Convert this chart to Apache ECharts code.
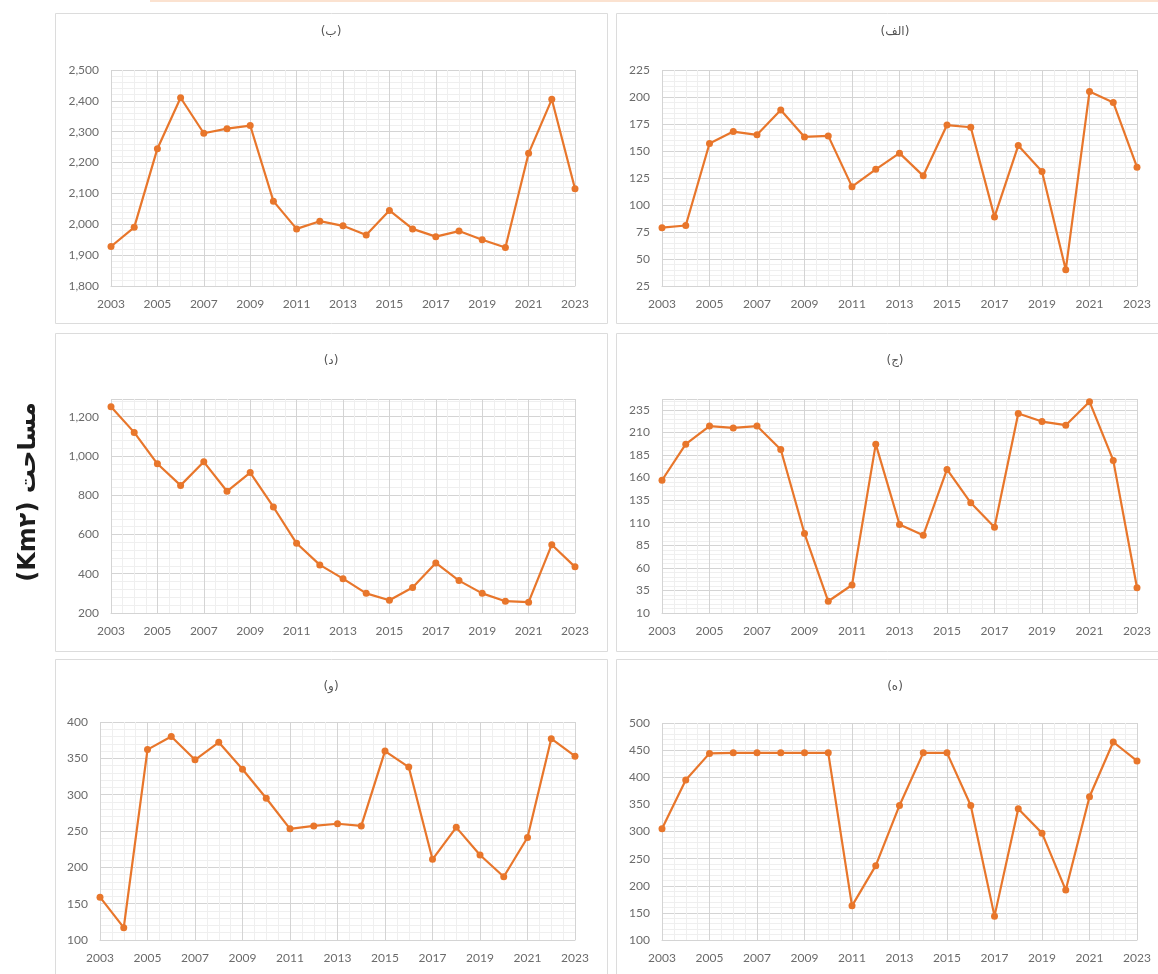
<!DOCTYPE html>
<html>
<head>
<meta charset="utf-8">
<script src="https://cdn.jsdelivr.net/npm/echarts@6/dist/echarts.min.js"></script>
<style>
  html, body { margin: 0; padding: 0; background: #ffffff; }
  #chart { width: 1158px; height: 974px; }
</style>
</head>
<body>
<div id="chart"></div>
<script>
// Years on the horizontal axis of every panel
const years = [2003, 2004, 2005, 2006, 2007, 2008, 2009, 2010, 2011, 2012, 2013,
               2014, 2015, 2016, 2017, 2018, 2019, 2020, 2021, 2022, 2023];

// Panel captions
const panelTitles = ['(ب)', '(الف)', '(د)', '(ج)', '(و)', '(ه)'];

// Area per year (km²) for each panel
const areaB   = [1928, 1990, 2245, 2410, 2295, 2310, 2320, 2075, 1985, 2010, 1995,
                 1965, 2045, 1985, 1960, 1978, 1950, 1925, 2230, 2405, 2115];
const areaAlf = [79, 81, 157, 168, 165, 188, 163, 164, 117, 133, 148,
                 127, 174, 172, 89, 155, 131, 40, 205, 195, 135];
const areaD   = [1250, 1120, 960, 850, 970, 820, 915, 740, 555, 445, 375,
                 300, 265, 330, 455, 365, 300, 260, 255, 548, 435];
const areaJ   = [157, 197, 217, 215, 217, 191, 98, 23, 41, 197, 108,
                 96, 169, 132, 105, 231, 222, 218, 244, 179, 38];
const areaV   = [159, 117, 362, 380, 348, 372, 335, 295, 253, 257, 260,
                 257, 360, 338, 211, 255, 217, 187, 241, 377, 353];
const areaH   = [305, 395, 444, 445, 445, 445, 445, 445, 163, 237, 348,
                 445, 445, 348, 144, 342, 297, 192, 364, 465, 430];

// Value-axis ranges: [min, max, tick step]
const axisB   = [1800, 2500, 100];
const axisAlf = [25, 225, 25];
const axisD   = [200, 1290, 200];
const axisJ   = [10, 247, 25];
const axisV   = [100, 400, 50];
const axisH   = [100, 500, 50];

const seriesValues = [areaB, areaAlf, areaD, areaJ, areaV, areaH];
const seriesAxes   = [axisB, axisAlf, axisD, axisJ, axisV, axisH];

// Page layout: frame of each panel and its plotting area (px)
const layout = [
  { frame: [55, 13, 552, 310],  grid: [111, 70, 464, 216],  titleX: 331, titleY: 26 },
  { frame: [616, 13, 560, 310], grid: [662, 70, 475, 216],  titleX: 895, titleY: 26 },
  { frame: [55, 333, 552, 318], grid: [111, 399, 464, 214], titleX: 331, titleY: 355 },
  { frame: [616, 333, 560, 318],grid: [662, 399, 475, 214], titleX: 895, titleY: 355 },
  { frame: [55, 659, 552, 330], grid: [100, 722, 475, 218], titleX: 331, titleY: 681 },
  { frame: [616, 659, 560, 330],grid: [662, 723, 475, 217], titleX: 895, titleY: 681 }
];

const LINE = '#E8762B';
const TEXT = '#6b6b6b';
const MAJOR = '#d4d4d4';
const MINOR = '#efefef';
const FONT = 'Lato, "Liberation Sans", sans-serif';

const grids = [], xAxes = [], yAxes = [], series = [], titles = [], graphics = [];

// faint accent strip along the top edge
graphics.push({ type: 'rect', shape: { x: 150, y: 0, width: 1008, height: 2 },
                style: { fill: '#fbe2d0' }, silent: true });

layout.forEach((p, i) => {
  const [fx, fy, fw, fh] = p.frame;
  graphics.push({ type: 'rect', shape: { x: fx + 0.5, y: fy + 0.5, width: fw, height: fh },
                  style: { fill: 'none', stroke: '#dcdcdc', lineWidth: 1 }, silent: true, z: -1 });

  const [gx, gy, gw, gh] = p.grid;
  grids.push({ left: gx, top: gy, width: gw, height: gh, containLabel: false });

  titles.push({
    text: panelTitles[i], left: p.titleX, top: p.titleY, textAlign: 'center', padding: 0,
    textStyle: { fontSize: 12, fontWeight: 'normal', color: '#555', fontFamily: 'DejaVu Sans' }
  });

  xAxes.push({
    type: 'value', gridIndex: i, min: 2003, max: 2023, interval: 2,
    axisLine: { show: true, lineStyle: { color: MAJOR } },
    axisTick: { show: false },
    axisLabel: { color: TEXT, fontSize: 12, fontFamily: FONT, margin: 12,
                 formatter: v => String(v) },
    splitLine: { show: true, lineStyle: { color: MAJOR, width: 1 } },
    minorTick: { show: false, splitNumber: 4 },
    minorSplitLine: { show: true, lineStyle: { color: MINOR, width: 1 } }
  });

  const [mn, mx, step] = seriesAxes[i];
  yAxes.push({
    type: 'value', gridIndex: i, min: mn, max: mx, interval: step,
    axisLine: { show: false },
    axisTick: { show: false },
    axisLabel: { color: TEXT, fontSize: 12, fontFamily: FONT, margin: 12,
                 showMaxLabel: (mx - mn) % step === 0,
                 formatter: v => v.toLocaleString('en-US') },
    splitLine: { show: true, lineStyle: { color: MAJOR, width: 1 } },
    minorTick: { show: false, splitNumber: 5 },
    minorSplitLine: { show: true, lineStyle: { color: MINOR, width: 1 } }
  });

  series.push({
    type: 'line', xAxisIndex: i, yAxisIndex: i,
    data: years.map((y, k) => [y, seriesValues[i][k]]),
    symbol: 'circle', symbolSize: 7,
    lineStyle: { color: LINE, width: 2.2 },
    itemStyle: { color: LINE },
    clip: false
  });
});

// shared vertical axis caption
graphics.push({
  type: 'text', x: 29, y: 492, rotation: Math.PI / 2,
  style: { text: '(Km۲) مساحت', font: 'bold 24px "DejaVu Sans", sans-serif',
           fill: '#1c1c1c', textAlign: 'center', textVerticalAlign: 'middle' },
  silent: true
});

const chart = echarts.init(document.getElementById('chart'), null, { renderer: 'canvas' });
chart.setOption({
  backgroundColor: '#ffffff',
  animation: false,
  title: titles,
  grid: grids,
  xAxis: xAxes,
  yAxis: yAxes,
  series: series,
  graphic: graphics
});
</script>
</body>
</html>
